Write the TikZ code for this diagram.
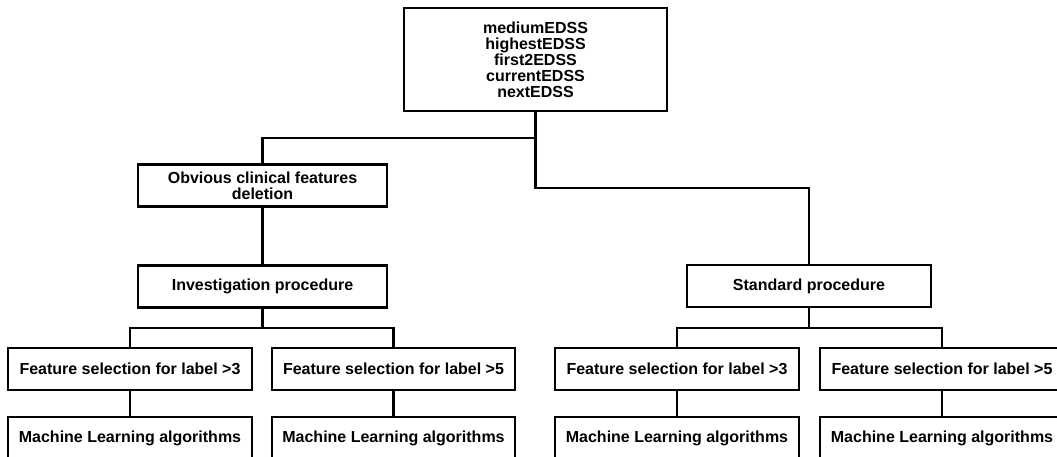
\documentclass[tikz,border=0pt]{standalone}
\usepackage{fontspec}
\setmainfont{Liberation Sans}
\begin{document}
\begin{tikzpicture}[x=1pt,y=-1pt,
  box/.style={draw=black,line width=2.9pt,fill=white,inner sep=0pt,
    font=\fontsize{16}{16}\selectfont\bfseries,align=center,
    minimum height=42pt},
  wire/.style={draw=black,line width=2.9pt,line cap=rect}]
  \useasboundingbox (0,0) rectangle (1057,457);
  % root with the five target variables
  \node[box,minimum width=263pt,minimum height=103pt] (top) at (535.5,59.5)
    {mediumEDSS\\highestEDSS\\first2EDSS\\currentEDSS\\nextEDSS};
  % left branch
  \node[box,minimum width=249pt] (obv) at (262.5,185.5)
    {Obvious clinical features\\deletion};
  \node[box,minimum width=249pt] (inv) at (262.5,286.5) {Investigation procedure};
  % right branch
  \node[box,minimum width=244pt] (std) at (809,286) {Standard procedure};
  % feature selection boxes
  \node[box,minimum width=244pt] (f1) at (130,369) {Feature selection for label >3};
  \node[box,minimum width=243pt] (f2) at (393.5,369) {Feature selection for label >5};
  \node[box,minimum width=244pt] (f3) at (677,369) {Feature selection for label >3};
  \node[box,minimum width=244pt] (f4) at (942,369) {Feature selection for label >5};
  % learning boxes
  \node[box,minimum width=244pt] (m1) at (130,438) {Machine Learning algorithms};
  \node[box,minimum width=243pt] (m2) at (393.5,438) {Machine Learning algorithms};
  \node[box,minimum width=244pt] (m3) at (677,438) {Machine Learning algorithms};
  \node[box,minimum width=244pt] (m4) at (942,438) {Machine Learning algorithms};
  % junction points of the tree
  \coordinate (jl) at (535.5,138);
  \coordinate (jr) at (535.5,188);
  \coordinate (bl) at (262.5,328);
  \coordinate (br) at (809,328);
  % connectors
  \draw[wire] (top.south) -- (jr) -| (std.north);
  \draw[wire] (jl) -| (obv.north);
  \draw[wire] (obv.south) -- (inv.north);
  \draw[wire] (inv.south) -- (bl);
  \draw[wire] (f1.north) |- (bl) -| (f2.north);
  \draw[wire] (std.south) -- (br);
  \draw[wire] (f3.north) |- (br) -| (f4.north);
  \draw[wire] (f1.south) -- (m1.north);
  \draw[wire] (f2.south) -- (m2.north);
  \draw[wire] (f3.south) -- (m3.north);
  \draw[wire] (f4.south) -- (m4.north);
\end{tikzpicture}
\end{document}
